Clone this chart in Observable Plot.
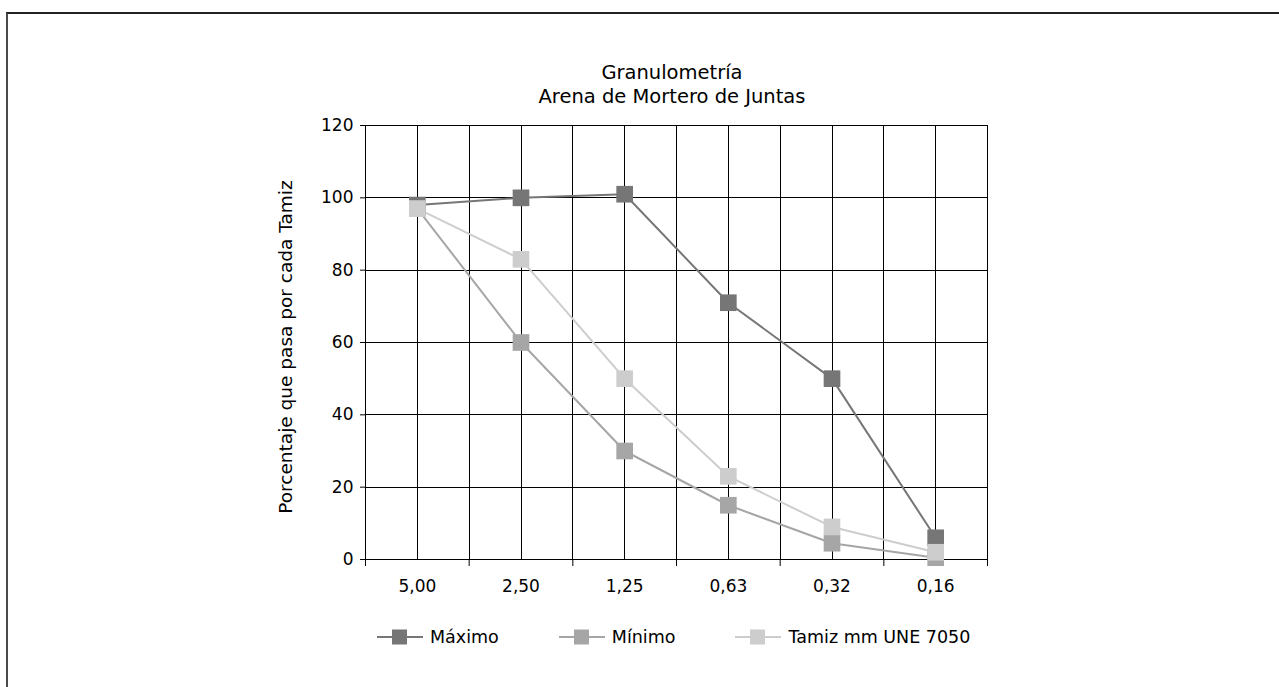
<!DOCTYPE html>
<html>
<head>
<meta charset="utf-8">
<script src="https://cdn.jsdelivr.net/npm/d3@7"></script>
<script src="https://cdn.jsdelivr.net/npm/@observablehq/plot@0.6"></script>
<style>
  html, body { margin: 0; padding: 0; background: #fff; overflow: hidden; }
  body { font-family: "DejaVu Sans", sans-serif; color: #000; width: 1279px; height: 687px; position: relative; }
  #frame { position: absolute; left: 6px; top: 12px; width: 1400px; height: 800px;
           border-left: 2px solid #4a4a4a; border-top: 2px solid #222; }
  #title { position: absolute; left: 372px; width: 600px; top: 61px; text-align: center;
           font-size: 19.5px; line-height: 24px; }
  #ylabel { position: absolute; left: 285px; top: 347px; transform: translate(-50%, -50%) rotate(-90deg);
            white-space: nowrap; font-size: 18.5px; }
  #chart { position: absolute; left: 250px; top: 110px; }
  #legend { position: absolute; left: 377px; top: 626px; display: flex;
            gap: 60px; font-size: 17.5px; }
  .item { display: flex; align-items: center; }
  .item span { margin-left: 7px; line-height: 22px; }
</style>
</head>
<body>
<div id="frame"></div>
<div id="title"></div>
<div id="ylabel"></div>
<div id="chart"></div>
<div id="legend"></div>
<script>
// ---- data ----
const tamices = ["5,00", "2,50", "1,25", "0,63", "0,32", "0,16"];
const maximo  = [98, 100, 101, 71, 50, 6];
const minimo  = [97, 60, 30, 15, 4.5, 0.5];
const tamiz   = [97, 83, 50, 23, 9, 2];
const seriesNames  = ["Máximo", "Mínimo", "Tamiz mm UNE 7050"];
const seriesColors = ["#767676", "#a6a6a6", "#cdcdcd"];
const yTicks = [0, 20, 40, 60, 80, 100, 120];
const titleLines = ["Granulometría", "Arena de Mortero de Juntas"];
const yLabel = "Porcentaje que pasa por cada Tamiz";

// ---- build ----
const seriesValues = [maximo, minimo, tamiz];
const n = tamices.length;
const data = seriesValues.flatMap((vals, s) =>
  vals.map((v, i) => ({ i, v, s: seriesNames[s] })));

document.getElementById("title").innerHTML = titleLines.map(t => `<div>${t}</div>`).join("");
document.getElementById("ylabel").textContent = yLabel;

const seriesMarks = seriesNames.flatMap(name => {
  const d = data.filter(e => e.s === name);
  return [
    Plot.line(d, { x: "i", y: "v", stroke: "s", strokeWidth: 2 }),
    Plot.dot(d, { x: "i", y: "v", fill: "s", symbol: "square", r: 9.4, stroke: "none" })
  ];
});

const chart = Plot.plot({
  width: 780, height: 500,
  marginLeft: 115, marginRight: 43, marginTop: 15, marginBottom: 51,
  style: { fontFamily: "DejaVu Sans", fontSize: "17px", color: "#000", background: "transparent" },
  x: { type: "linear", domain: [-0.5, n - 0.5] },
  y: { domain: [0, 120] },
  color: { domain: seriesNames, range: seriesColors },
  marks: [
    Plot.ruleY(yTicks, { stroke: "#000", strokeWidth: 1, shapeRendering: "crispEdges" }),
    Plot.ruleX(d3.range(-0.5, n, 0.5), { stroke: "#000", strokeWidth: 1, shapeRendering: "crispEdges" }),
    Plot.axisY({ ticks: yTicks, tickSize: 5, tickPadding: 7, label: null, fontSize: 17, stroke: "#000" }),
    Plot.axisX({ ticks: d3.range(-0.5, n, 1), tickSize: 7, tickFormat: () => "", label: null, stroke: "#000" }),
    Plot.axisX({ ticks: d3.range(n), tickSize: 0, tickPadding: 20, tickFormat: i => tamices[i], label: null, fontSize: 17 }),
    ...seriesMarks
  ]
});
document.getElementById("chart").appendChild(chart);

// legend
const legend = document.getElementById("legend");
seriesNames.forEach((name, k) => {
  const item = document.createElement("div");
  item.className = "item";
  item.innerHTML = `<svg width="46" height="20"><line x1="0" x2="46" y1="10" y2="10" stroke="${seriesColors[k]}" stroke-width="2"/><rect x="15" y="2.5" width="15" height="15" fill="${seriesColors[k]}"/></svg><span>${name}</span>`;
  legend.appendChild(item);
});
</script>
</body>
</html>
